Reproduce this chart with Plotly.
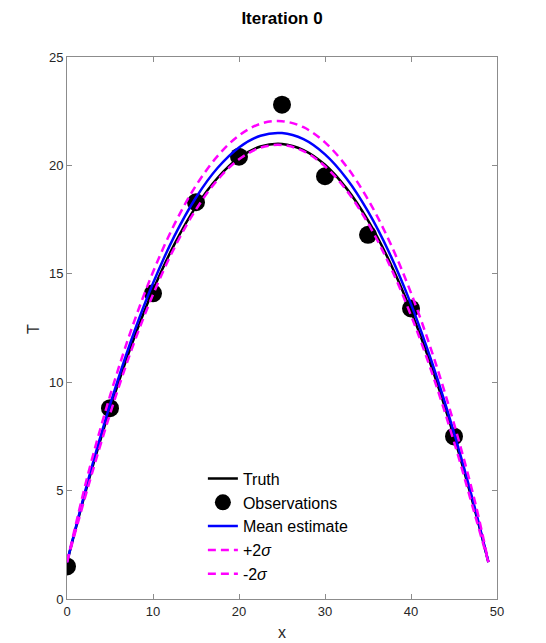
import plotly.graph_objects as go

x_curve = [0, 2.5, 5, 7.5, 10, 12.5, 15, 17.5, 20, 22.5, 25, 27.5, 30, 32.5, 35, 37.5, 40, 42.5, 45, 47.5, 49]
truth = [1.70, 5.44, 8.77, 11.71, 14.24, 16.37, 18.10, 19.42, 20.35, 20.87, 20.99, 20.71, 20.03, 18.94, 17.46, 15.57, 13.28, 10.58, 7.49, 3.99, 1.70]
mean_est = [1.70, 5.54, 8.95, 11.97, 14.56, 16.75, 18.52, 19.88, 20.83, 21.37, 21.49, 21.21, 20.51, 19.40, 17.88, 15.95, 13.60, 10.84, 7.67, 4.09, 1.70]
upper = [1.70, 5.84, 9.37, 12.45, 15.08, 17.29, 19.07, 20.43, 21.38, 21.92, 22.04, 21.76, 21.06, 19.95, 18.43, 16.49, 14.12, 11.32, 8.09, 4.39, 1.70]
lower = [1.70, 5.24, 8.53, 11.49, 14.04, 16.21, 17.97, 19.33, 20.28, 20.82, 20.94, 20.66, 19.96, 18.85, 17.33, 15.41, 13.08, 10.36, 7.25, 3.79, 1.70]

x_obs = [0, 5, 10, 15, 20, 25, 30, 35, 40, 45]
y_obs = [1.5, 8.8, 14.1, 18.3, 20.4, 22.8, 19.5, 16.8, 13.4, 7.5]

FONT = "Liberation Sans, Arial, Helvetica, sans-serif"

fig = go.Figure()
fig.add_trace(go.Scatter(x=x_curve, y=truth, mode="lines", name="Truth",
                         line=dict(color="black", width=2.5, shape="spline")))
fig.add_trace(go.Scatter(x=x_obs, y=y_obs, mode="markers", name="Observations",
                         marker=dict(color="black", size=18, symbol="circle")))
fig.add_trace(go.Scatter(x=x_curve, y=mean_est, mode="lines", name="Mean estimate",
                         line=dict(color="#0000FF", width=2.5, shape="spline")))
fig.add_trace(go.Scatter(x=x_curve, y=upper, mode="lines", name="+2<i>σ</i>",
                         line=dict(color="#FF00FF", width=2.5, dash="8px,5px", shape="spline")))
fig.add_trace(go.Scatter(x=x_curve, y=lower, mode="lines", name="-2<i>σ</i>",
                         line=dict(color="#FF00FF", width=2.5, dash="8px,5px", shape="spline")))

axis_common = dict(
    showgrid=False, zeroline=False, showline=True, linecolor="#8c8c8c", linewidth=1,
    mirror="ticks", ticks="inside", ticklen=5, tickcolor="#8c8c8c", automargin=False,
    tickfont=dict(family=FONT, size=13, color="#262626"),
)

fig.update_layout(
    width=546, height=643,
    margin=dict(l=67, r=49, t=57, b=44),
    paper_bgcolor="white", plot_bgcolor="white",
    title=dict(text="<b>Iteration 0</b>", x=282 / 546, xanchor="center",
               y=1 - 18 / 643, yanchor="middle",
               font=dict(family=FONT, size=17, color="black")),
    xaxis=dict(range=[0, 50], tickvals=[0, 10, 20, 30, 40, 50], **axis_common),
    yaxis=dict(range=[0, 25], tickvals=[0, 5, 10, 15, 20, 25], **axis_common),
    showlegend=True,
    legend=dict(x=0.316, y=0.2535, xanchor="left", yanchor="top",
                bgcolor="rgba(0,0,0,0)", borderwidth=0,
                font=dict(family=FONT, size=16, color="black"),
                tracegroupgap=0, itemwidth=30),
    annotations=[
        dict(text="x", xref="paper", yref="paper", x=0.5, y=-0.061,
             xanchor="center", yanchor="middle", showarrow=False,
             font=dict(family=FONT, size=16, color="#262626")),
        dict(text="T", xref="paper", yref="paper", x=-0.079, y=0.498,
             xanchor="center", yanchor="middle", showarrow=False, textangle=-90,
             font=dict(family=FONT, size=16, color="#262626")),
    ],
)

fig.write_html("out.html")
